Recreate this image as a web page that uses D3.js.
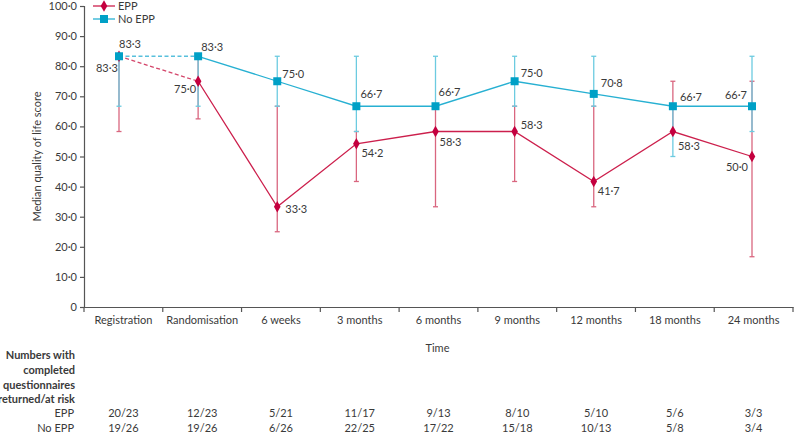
<!DOCTYPE html>
<html><head><meta charset="utf-8">
<script src="https://cdn.jsdelivr.net/npm/d3@7/dist/d3.min.js"></script>
<style>
body{margin:0;background:#fff;}
text{font-family:Lato,"Open Sans",sans-serif;fill:#3a3a3a;}
</style></head>
<body><svg id="c" width="794" height="433"></svg>
<script>
const categories = ["Registration","Randomisation","6 weeks","3 months","6 months","9 months","12 months","18 months","24 months"];
const eppMedian   = [83.3, 75.0, 33.3, 54.2, 58.3, 58.3, 41.7, 58.3, 50.0];
const eppLow      = [58.3, 62.5, 25.0, 41.7, 33.3, 41.7, 33.3, 58.3, 16.7];
const eppHigh     = [83.3, 83.3, 66.7, 58.3, 66.7, 66.7, 66.7, 75.0, 75.0];
const noEppMedian = [83.3, 83.3, 75.0, 66.7, 66.7, 75.0, 70.8, 66.7, 66.7];
const noEppLow    = [66.7, 66.7, 66.7, 58.3, 66.7, 66.7, 66.7, 50.0, 58.3];
const noEppHigh   = [83.3, 83.3, 83.3, 83.3, 83.3, 83.3, 83.3, 66.7, 83.3];
const yTicks = [0,10,20,30,40,50,60,70,80,90,100];
const eppCounts   = ["20/23","12/23","5/21","11/17","9/13","8/10","5/10","5/6","3/3"];
const noEppCounts = ["19/26","19/26","6/26","22/25","17/22","15/18","10/13","5/8","3/4"];

// label placement (layout only): [dx, dy, anchor]
const noEppLabelPos = [[0,-12,"start"],[3,-9,"start"],[5,-7,"start"],[4,-12,"start"],[3,-14,"start"],[6,-8,"start"],[7,-11,"start"],[7,-9,"start"],[-5,-11,"end"]];
const eppLabelPos   = [[-1,12,"end"],[-2,8,"end"],[8,2,"start"],[5,9,"start"],[4,11,"start"],[6,-6,"start"],[4,10,"start"],[5,15,"start"],[-4,11,"end"]];

const C = {
  epp:"#c4003f", eppLine:"#cc1f4c", eppErr:"#d9667f", eppDash:"#d4466b",
  no:"#00a0c6", noLine:"#27b0d2", noErr:"#6ccbe0", noDash:"#58c0dc",
  axis:"#555"
};
const fmt = v => v === 0 ? "0" : v.toFixed(1).replace(".", "\u00b7");

const svg = d3.select("#c");
const L = 84, R = 793, T = 6, B = 307;
const y = d3.scaleLinear().domain([0,100]).range([B,T]);
const xb = d3.scaleBand().domain(categories).range([L,R]);
const xp = d3.scalePoint().domain(categories).range([L+35, R-41]);

// Y axis
const yAxis = svg.append("g").attr("transform",`translate(${L},0)`)
  .call(d3.axisLeft(y).tickValues(yTicks).tickSize(4).tickPadding(3).tickFormat(fmt));
yAxis.select(".domain").attr("stroke",C.axis).attr("stroke-width",1.2);
yAxis.selectAll(".tick line").attr("stroke",C.axis).attr("stroke-width",1.2);
yAxis.selectAll(".tick text").style("font-size","11px").attr("fill","#3a3a3a").style("font-family","Lato");

// X axis
const xAxis = svg.append("g").attr("transform",`translate(0,${B})`)
  .call(d3.axisBottom(xb).tickSize(0).tickPadding(9));
xAxis.select(".domain").attr("stroke",C.axis).attr("stroke-width",1.2);
xAxis.selectAll(".tick text").style("font-size","11px").attr("fill","#3a3a3a").style("font-family","Lato");
const bounds = categories.map(c => xb(c)).concat([R]);
xAxis.selectAll(".bt").data(bounds).enter().append("line")
  .attr("x1",d=>d).attr("x2",d=>d).attr("y1",0).attr("y2",5)
  .attr("stroke",C.axis).attr("stroke-width",1.2);

// axis titles
svg.append("text").attr("transform",`translate(37,${(T+B)/2}) rotate(-90)`)
  .attr("text-anchor","middle").attr("dy","0.35em").style("font-size","11px").text("Median quality of life score");
svg.append("text").attr("x",(L+R)/2-1).attr("y",348).attr("text-anchor","middle").attr("dy","0.35em")
  .style("font-size","11px").text("Time");

// error bars
function errBars(lo, hi, color){
  const g = svg.append("g");
  categories.forEach((c,i)=>{
    const x = xp(c);
    g.append("line").attr("x1",x).attr("x2",x).attr("y1",y(lo[i])).attr("y2",y(hi[i])).attr("stroke",color).attr("stroke-width",1.3);
    [lo[i],hi[i]].forEach(v=>g.append("line").attr("x1",x-2.5).attr("x2",x+2.5).attr("y1",y(v)).attr("y2",y(v)).attr("stroke",color).attr("stroke-width",1.3));
  });
}
errBars(eppLow, eppHigh, C.eppErr);
errBars(noEppLow, noEppHigh, C.noErr);

// lines
function series(vals, lineColor, dashColor){
  const pts = categories.map((c,i)=>[xp(c), y(vals[i])]);
  svg.append("path").attr("d", d3.line()(pts.slice(0,2))).attr("fill","none")
    .attr("stroke",dashColor).attr("stroke-width",1.3).attr("stroke-dasharray","4,2.5");
  svg.append("path").attr("d", d3.line()(pts.slice(1))).attr("fill","none")
    .attr("stroke",lineColor).attr("stroke-width",1.3);
}
series(eppMedian, C.eppLine, C.eppDash);
series(noEppMedian, C.noLine, C.noDash);

// markers (EPP first, No EPP squares on top)
categories.forEach((c,i)=>{
  svg.append("path").attr("d",d3.symbol().type(d3.symbolDiamond).size(38)())
    .attr("transform",`translate(${xp(c)},${y(eppMedian[i])})`).attr("fill",C.epp);
});
categories.forEach((c,i)=>{
  svg.append("rect").attr("x",xp(c)-4).attr("y",y(noEppMedian[i])-4).attr("width",8).attr("height",8).attr("fill",C.no);
});

// value labels
function valueLabels(vals, pos){
  categories.forEach((c,i)=>{
    svg.append("text").attr("x",xp(c)+pos[i][0]).attr("y",y(vals[i])+pos[i][1]).attr("dy","0.35em")
      .attr("text-anchor",pos[i][2]).style("font-size","11px").text(fmt(vals[i]));
  });
}
valueLabels(noEppMedian, noEppLabelPos);
valueLabels(eppMedian, eppLabelPos);

// legend
const lg = svg.append("g");
lg.append("line").attr("x1",93).attr("x2",115).attr("y1",6).attr("y2",6).attr("stroke",C.eppLine).attr("stroke-width",1.3);
lg.append("path").attr("d",d3.symbol().type(d3.symbolDiamond).size(38)()).attr("transform","translate(104,6)").attr("fill",C.epp);
lg.append("text").attr("x",118).attr("y",6).attr("dy","0.35em").style("font-size","11px").text("EPP");
lg.append("line").attr("x1",93).attr("x2",115).attr("y1",19).attr("y2",19).attr("stroke",C.noLine).attr("stroke-width",1.3);
lg.append("rect").attr("x",100).attr("y",15).attr("width",8).attr("height",8).attr("fill",C.no);
lg.append("text").attr("x",118).attr("y",19).attr("dy","0.35em").style("font-size","11px").text("No EPP");

// table
const tl = ["Numbers with","completed","questionnaires","returned/at risk"];
const tly = [355,370.5,385,399.5];
tl.forEach((t,i)=>svg.append("text").attr("x",75).attr("y",tly[i]).attr("dy","0.35em").attr("text-anchor","end")
  .style("font-size","11px").style("font-weight","bold").text(t));
svg.append("text").attr("x",74).attr("y",413.5).attr("dy","0.35em").attr("text-anchor","end").style("font-size","11px").text("EPP");
svg.append("text").attr("x",74).attr("y",428).attr("dy","0.35em").attr("text-anchor","end").style("font-size","11px").text("No EPP");
categories.forEach((c,i)=>{
  const cx = xb(c)+xb.bandwidth()/2;
  svg.append("text").attr("x",cx).attr("y",413.5).attr("dy","0.35em").attr("text-anchor","middle").style("font-size","11px").text(eppCounts[i]);
  svg.append("text").attr("x",cx).attr("y",428).attr("dy","0.35em").attr("text-anchor","middle").style("font-size","11px").text(noEppCounts[i]);
});
</script></body></html>
